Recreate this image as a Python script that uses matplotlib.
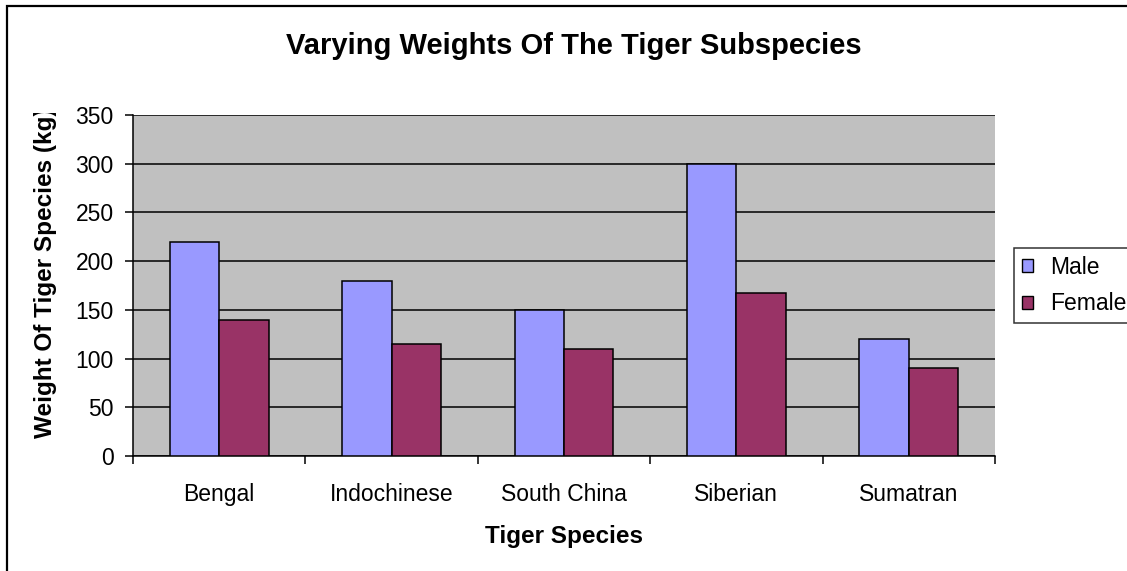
import numpy as np
import matplotlib.pyplot as plt
from matplotlib.patches import Rectangle
from matplotlib.transforms import Bbox

plt.rcParams['font.family'] = ['Liberation Sans', 'DejaVu Sans']

species = ['Bengal', 'Indochinese', 'South China', 'Siberian', 'Sumatran']
male = [220, 180, 150, 300, 120]
female = [140, 115, 110, 167, 90]
yticks = [0, 50, 100, 150, 200, 250, 300, 350]

W, H = 1127, 571
fig = plt.figure(figsize=(W/100, H/100), dpi=100)
ax = fig.add_axes([133/W, 1-456/H, 862/W, 341/H])
ax.set_facecolor('#C0C0C0')

x = np.arange(len(species))
w = 0.287
ax.bar(x - w/2, male, w, color='#9999FF', edgecolor='black', linewidth=1.1, label='Male', zorder=3)
ax.bar(x + w/2, female, w, color='#993366', edgecolor='black', linewidth=1.1, label='Female', zorder=3)

ax.set_xlim(-0.5, len(species) - 0.5)
ax.set_ylim(0, 350)
ax.set_yticks(yticks)
ax.yaxis.grid(True, color='black', linewidth=1.1, zorder=1)
ax.set_axisbelow(True)

# ticks at category boundaries, labels at centers
ax.set_xticks(np.arange(len(species) + 1) - 0.5)
ax.set_xticklabels([])
ax.set_xticks(x, minor=True)
ax.set_xticklabels(species, minor=True, fontsize=16.5)
ax.tick_params(axis='x', which='minor', length=0, pad=19.5)
ax.tick_params(axis='x', which='major', length=6, width=1.1, direction='out')
ax.tick_params(axis='y', length=6, width=1.1, pad=8, labelsize=16.5)

for s in ['top', 'right']:
    ax.spines[s].set_visible(False)
ax.spines['left'].set_linewidth(1.1)
ax.spines['bottom'].set_linewidth(1.1)

fig.text(564/W, 1-543/H, 'Tiger Species', ha='center', va='baseline',
         fontsize=17.5, fontweight='bold')

# y label, cut at the top like the original
yl = fig.text(46/W, 1-438/H, 'Weight Of Tiger Species (kg)', rotation=90,
              ha='center', va='bottom', fontsize=17.5, fontweight='bold')
yl.set_clip_box(Bbox.from_extents(0, 0, W, H - 113))
yl.set_clip_on(True)

fig.text(574/W, 1-46/H, 'Varying Weights Of The Tiger Subspecies',
         ha='center', va='center', fontsize=21, fontweight='bold')

leg = ax.legend(loc='upper left', bbox_to_anchor=(1014/W, 1-248/H),
                bbox_transform=fig.transFigure, frameon=True, fancybox=False,
                edgecolor='black', fontsize=16.5, handlelength=0.48, handleheight=0.48,
                handletextpad=0.75, borderpad=0.35, labelspacing=0.58, borderaxespad=0)
leg.get_frame().set_linewidth(1.1)
for p in leg.get_patches():
    p.set_linewidth(1.0)

fig.patches.append(Rectangle((7/W, -0.05), 1.2, 1-6/H+0.05, transform=fig.transFigure,
                             fill=False, edgecolor='black', linewidth=1.6))

fig.savefig('out.png', dpi=100)
